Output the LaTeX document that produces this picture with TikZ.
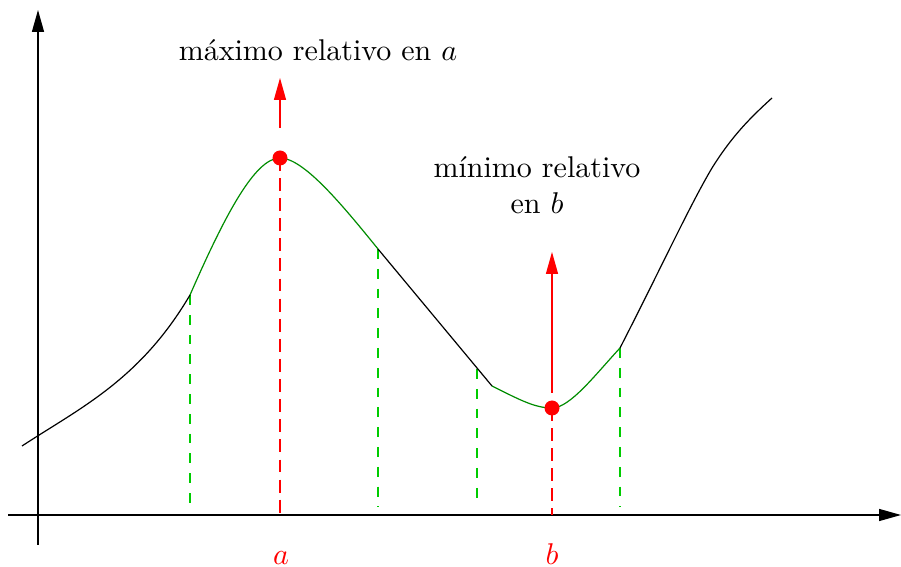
\documentclass[tikz,border=0pt]{standalone}
\usepackage{fontspec}
\usetikzlibrary{arrows.meta}
\definecolor{curvegreen}{RGB}{0,140,0}
\definecolor{dashgreen}{RGB}{0,204,0}
\begin{document}
\begin{tikzpicture}[x=0.33333pt,y=-0.33333pt,
  axis/.style={line width=0.4pt,-{Triangle[length=7.3pt,width=4pt]}},
  redarrow/.style={red,line width=0.4pt,-{Triangle[length=7.3pt,width=4pt]}},
  blackcurve/.style={black,line width=0.4pt},
  greencurve/.style={curvegreen,line width=0.4pt},
  greendash/.style={dashgreen,line width=0.4pt,dash pattern=on 3.3pt off 3.3pt},
  reddash/.style={red,line width=0.4pt,dash pattern=on 4.3pt off 2.4pt},
  dot/.style={circle,fill=red,inner sep=0pt,minimum size=5pt},
  lbl/.style={anchor=base,inner sep=0pt}]
\useasboundingbox (0,0) rectangle (901,567);
% key points
\coordinate (p0) at (22,446);
\coordinate (p1) at (190,295);
\coordinate (pa) at (280,158);
\coordinate (p2) at (378,249);
\coordinate (p3) at (492,386);
\coordinate (pb) at (552,408);
\coordinate (p4) at (620,348);
\coordinate (p45) at (712,168);
\coordinate (p5) at (772,98);
\coordinate (q3) at (477,369);
% axes
\coordinate (xs) at (8,515);
\coordinate (xe) at (901,515);
\coordinate (ys) at (38,545);
\coordinate (ye) at (38,10);
\draw[axis] (xs) -- (xe);
\draw[axis] (ys) -- (ye);
% dashed verticals
\draw[greendash] (p1) -- (190,507);
\draw[greendash] (p2) -- (378,507);
\draw[greendash] (q3) -- (477,507);
\draw[greendash] (p4) -- (620,507);
\draw[reddash] (pa) -- (280,515);
\draw[reddash] (pb) -- (552,515);
% curve
\draw[blackcurve] (p0) .. controls (80,408) and (140,380) .. (p1);
\draw[greencurve] (p1) .. controls (225,215) and (255,158) .. (pa)
  .. controls (303,158) and (340,202) .. (p2);
\draw[blackcurve] (p2) -- (p3);
\draw[greencurve] (p3) .. controls (520,400) and (535,408) .. (pb)
  .. controls (570,408) and (595,375) .. (p4);
\draw[blackcurve] (p4) .. controls (660,270) and (690,205) .. (p45)
  .. controls (732,136) and (750,118) .. (p5);
% dots
\node[dot] (da) at (pa) {};
\node[dot] (db) at (pb) {};
% arrows
\coordinate (a1) at (280,128);
\coordinate (a2) at (280,78);
\coordinate (b1) at (552,393);
\coordinate (b2) at (552,252);
\draw[redarrow] (a1) -- (a2);
\draw[redarrow] (b1) -- (b2);
% labels
\node[lbl] (tmax) at (318,61) {máximo relativo en $a$};
\node[align=center,inner sep=0pt] (tmin) at (537,185) {mínimo relativo\\en $b$};
\node[lbl,red] (la) at (281,565) {$a$};
\node[lbl,red] (lb) at (552,565) {$b$};
\end{tikzpicture}
\end{document}
